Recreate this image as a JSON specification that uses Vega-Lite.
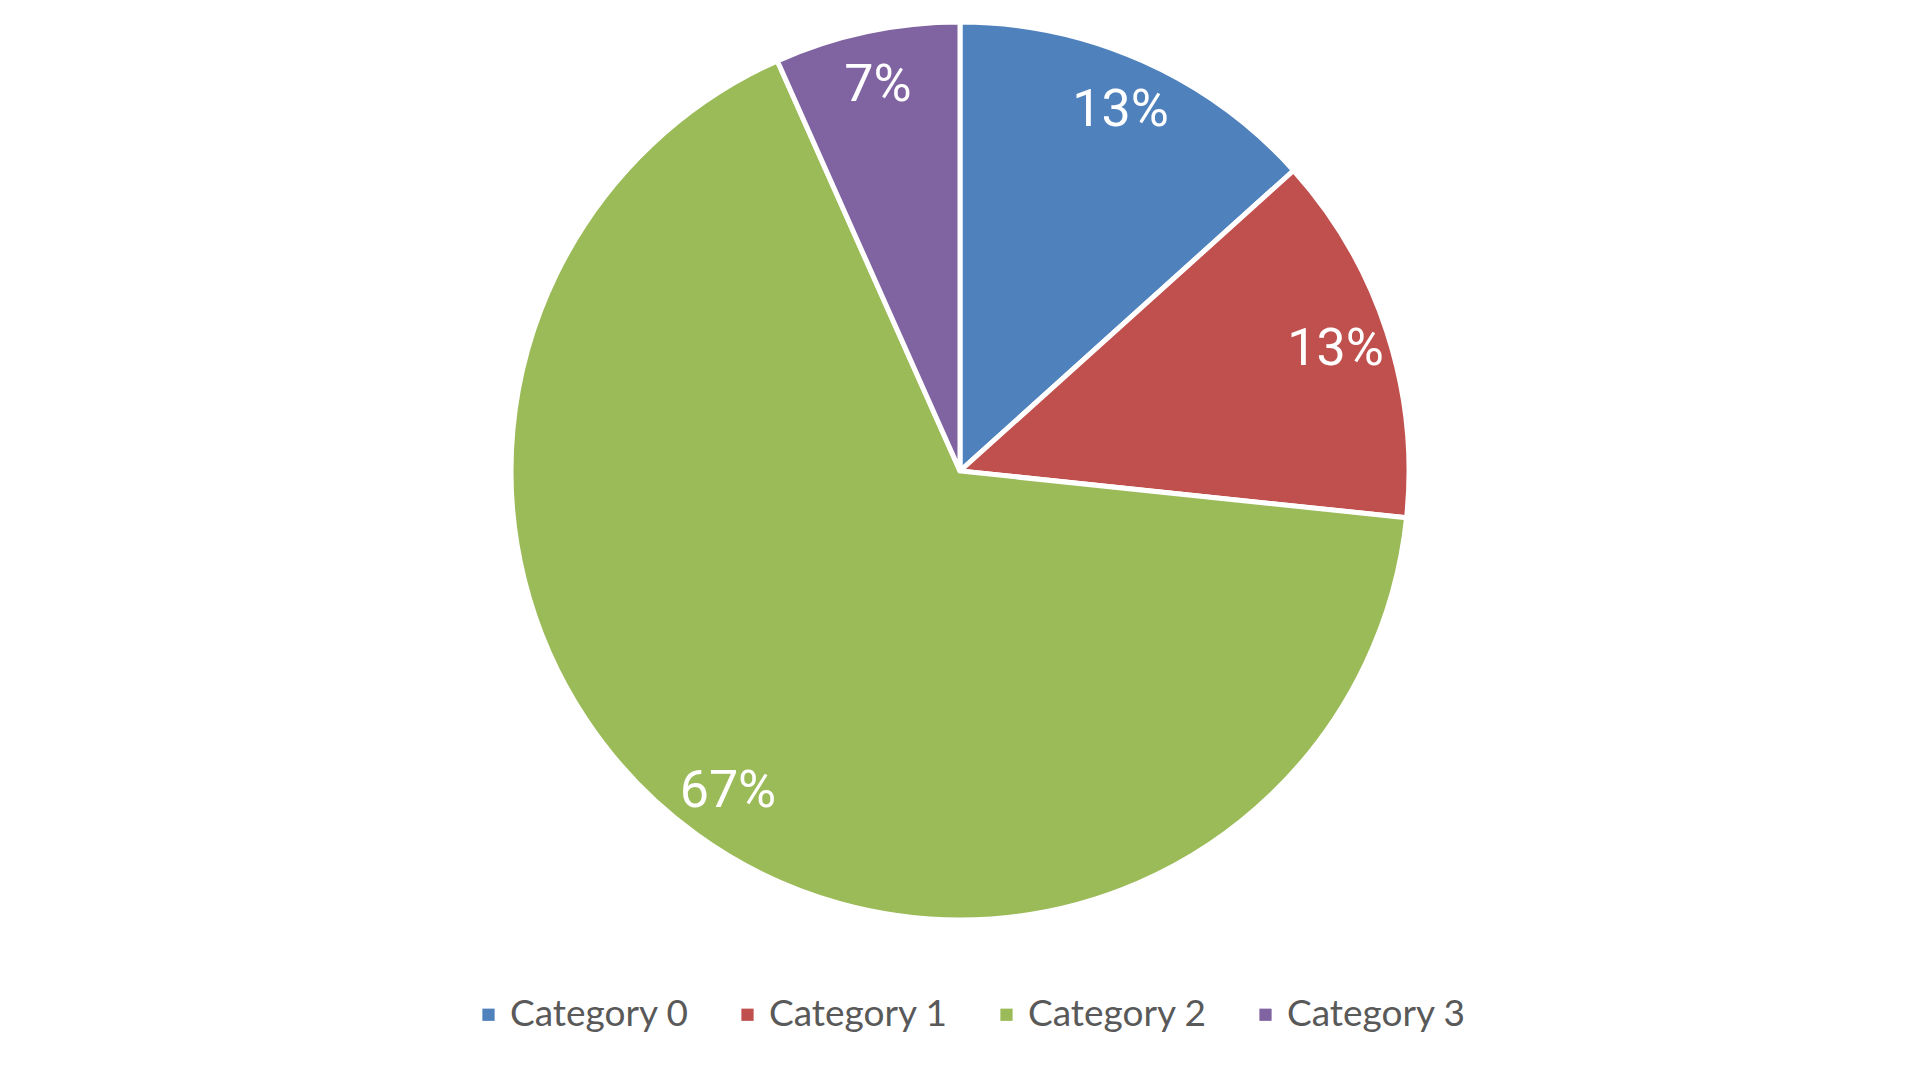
{
  "$schema": "https://vega.github.io/schema/vega-lite/v6.json",
  "width": 1920,
  "height": 942,
  "autosize": {"type": "none"},
  "padding": {"left": 0, "top": 0, "right": 0, "bottom": 138},
  "background": "white",
  "data": {"values": [
    {"category": "Category 0", "value": 13.33, "label": "13%"},
    {"category": "Category 1", "value": 13.33, "label": "13%"},
    {"category": "Category 2", "value": 66.67, "label": "67%"},
    {"category": "Category 3", "value": 6.67, "label": "7%"}
  ]},
  "encoding": {
    "theta": {"field": "value", "type": "quantitative", "stack": true},
    "order": {"field": "category", "type": "nominal"},
    "color": {
      "field": "category", "type": "nominal",
      "scale": {"domain": ["Category 0", "Category 1", "Category 2", "Category 3"], "range": ["#4F81BD", "#C0504D", "#9BBB59", "#8064A2"]},
      "legend": {
        "title": null, "orient": "none", "direction": "horizontal",
        "legendX": 470, "legendY": 996,
        "symbolType": "square", "symbolSize": 150, "symbolStrokeWidth": 0,
        "labelFont": "Lato", "labelFontSize": 37, "labelColor": "#595959",
        "labelOffset": 3, "columnPadding": 40, "labelLimit": 400
      }
    }
  },
  "layer": [
    {"mark": {"type": "arc", "radius": 449, "stroke": "white", "strokeWidth": 5}},
    {"mark": {"type": "text", "radius": 395, "font": "Roboto", "fontSize": 52, "fill": "white", "baseline": "middle", "align": "center"},
     "encoding": {"text": {"field": "label"}, "color": {"value": "white"}}}
  ]
}
